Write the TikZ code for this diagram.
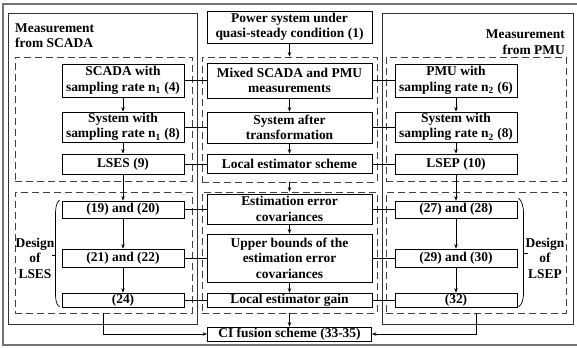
\documentclass[tikz,border=0pt]{standalone}
\usepackage{fontspec}
\setmainfont{Liberation Serif}
\usetikzlibrary{arrows.meta}

\begin{document}
\begin{tikzpicture}[x=1bp,y=-1bp,
  every node/.style={font=\fontsize{13.5}{15.5}\selectfont\bfseries},
  box/.style={draw=black, line width=0.8bp, inner sep=0pt, align=center},
  cbox/.style={box, minimum width=165bp},
  sbox/.style={box, minimum width=122bp},
  dbox/.style={draw=black!75, line width=0.8bp, dash pattern=on 7bp off 4bp, inner sep=0pt},
  panel/.style={draw=black!80, line width=1bp},
  frame/.style={draw=black!55, line width=1.2bp},
  link/.style={draw=black, line width=0.7bp},
  arr/.style={link, -{Stealth[length=4.5bp,width=3.5bp]}},
  lbl/.style={inner sep=0pt},
  bracket/.style={draw=black, line width=0.7bp}]
\useasboundingbox (0,0) rectangle (577,347);

% outer frame and the two measurement panels
\draw[frame] (3,4) rectangle (590,345);
\draw[panel] (8,13) rectangle (197,324);
\draw[panel] (382,13) rectangle (573,324);

% dashed groups
\node[dbox, minimum width=177bp, minimum height=124bp] (L1) at (103.5,119) {};
\node[dbox, minimum width=177bp, minimum height=121bp] (L2) at (103.5,252.5) {};
\node[dbox, minimum width=175bp, minimum height=125bp] (C1) at (289.5,119.5) {};
\node[dbox, minimum width=175bp, minimum height=121bp] (C2) at (289.5,252.5) {};
\node[dbox, minimum width=180bp, minimum height=124bp] (R1) at (476,119) {};
\node[dbox, minimum width=180bp, minimum height=121bp] (R2) at (476,252.5) {};

% panel titles
\node[lbl, anchor=base west] (mS1) at (15,32) {Measurement};
\node[lbl, anchor=base west] (mS2) at (15,47.5) {from SCADA};
\node[lbl, anchor=base east] (mP1) at (565,38) {Measurement};
\node[lbl, anchor=base east] (mP2) at (565,54) {from PMU};

% centre column
\node[cbox, minimum height=32bp] (pw) at (289.5,27) {Power system under\\quasi-steady condition (1)};
\node[cbox, minimum height=35bp] (mix) at (289.5,80.5) {Mixed SCADA and PMU\\measurements};
\node[cbox, minimum height=31bp] (sysT) at (289.5,127.5) {System after\\transformation};
\node[cbox, minimum height=19bp] (les) at (289.5,163.5) {Local estimator scheme};
\node[cbox, minimum height=30bp] (err) at (289.5,209) {Estimation error\\covariances};
\node[cbox, minimum height=48bp] (ub) at (289.5,258) {Upper bounds of the\\estimation error\\covariances};
\node[cbox, minimum height=14bp] (gain) at (289.5,300) {Local estimator gain};
\node[box, minimum width=164bp, minimum height=14bp] (ci) at (289.5,334) {CI fusion scheme (33-35)};

% SCADA column
\node[sbox, minimum height=33bp] (sc) at (123,80.5) {SCADA with\\sampling rate n\textsubscript{1} (4)};
\node[sbox, minimum height=30bp] (s1) at (123,127) {System with\\sampling rate n\textsubscript{1} (8)};
\node[sbox, minimum height=20bp] (lses) at (123,164) {LSES (9)};
\node[sbox, minimum height=17bp] (e19) at (123,209.5) {(19) and (20)};
\node[sbox, minimum height=18bp] (e21) at (123,258) {(21) and (22)};
\node[sbox, minimum height=14bp] (e24) at (123,300) {(24)};

% PMU column
\node[sbox, minimum height=33bp] (pm) at (456,80.5) {PMU with\\sampling rate n\textsubscript{2} (6)};
\node[sbox, minimum height=30bp] (s2) at (456,127) {System with\\sampling rate n\textsubscript{2} (8)};
\node[sbox, minimum height=20bp] (lsep) at (456,164) {LSEP (10)};
\node[sbox, minimum height=17bp] (e27) at (456,209.5) {(27) and (28)};
\node[sbox, minimum height=18bp] (e29) at (456,258) {(29) and (30)};
\node[sbox, minimum height=14bp] (e32) at (456,300) {(32)};

% design labels and their round brackets
\node[lbl, align=center] (dS) at (35,258) {Design\\of\\LSES};
\node[lbl, align=center] (dP) at (545,258) {Design\\of\\LSEP};
\draw[bracket] (59.5,200) .. controls (56,203) and (55.5,208) .. (55.5,216)
  -- (55.5,292) .. controls (55.5,300) and (56,304) .. (59.5,307);
\draw[bracket] (55.5,255) -- (52,255);
\draw[bracket] (518.5,198) .. controls (522,201) and (523.5,206) .. (523.5,214)
  -- (523.5,292) .. controls (523.5,300) and (522,304) .. (518.5,307);
\draw[bracket] (523.5,253) -- (527.5,253);

% vertical flow
\foreach \a/\b in {sc/s1, s1/lses, lses/e19, e19/e21, e21/e24,
                   pm/s2, s2/lsep, lsep/e27, e27/e29, e29/e32,
                   mix/sysT, sysT/les, err/ub, ub/gain}
  \draw[arr] (\a) -- (\b);
\draw[arr] (pw.south) -- (C1.north);
\draw[arr] (C1.south) -- (C2.north);
\draw[arr] (C2.south) -- (ci.north);

% cross links between columns
\foreach \a/\b in {sc/mix, s1/sysT, lses/les, e19/err, e21/ub, e24/gain}
  \draw[link] (\a.east) -- (\a.east -| \b.west);
\foreach \a/\b in {pm/mix, s2/sysT, lsep/les, e27/err, e29/ub, e32/gain}
  \draw[link] (\a.west) -- (\a.west -| \b.east);

% fusion inputs
\draw[arr] (L2.south) |- (ci.west);
\draw[arr] (R2.south) |- (ci.east);
\end{tikzpicture}
\end{document}
